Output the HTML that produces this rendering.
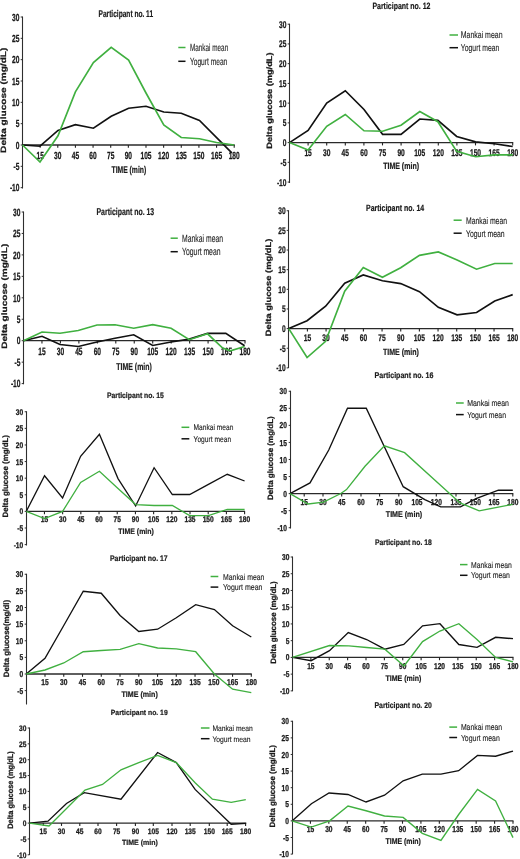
<!DOCTYPE html>
<html><head><meta charset="utf-8"><style>
html,body{margin:0;padding:0;background:#fff;}
body{width:520px;height:859px;overflow:hidden;}
svg{display:block;filter:blur(0.3px);}
text{font-family:"Liberation Sans",sans-serif;}
</style></head><body>
<svg width="520" height="859" viewBox="0 0 520 859" text-rendering="geometricPrecision" style="will-change:transform">
<rect width="520" height="859" fill="#fff"/>
<g font-weight="bold" fill="#1a1a1a">
<line x1="22.5" y1="16.5" x2="22.5" y2="188.5" stroke="#2e2e2e" stroke-width="1.1"/>
<line x1="20.7" y1="17" x2="22.5" y2="17" stroke="#2e2e2e" stroke-width="1"/>
<text x="19.5" y="20.66" font-size="10.3" text-anchor="end" textLength="7.4" lengthAdjust="spacingAndGlyphs" stroke="#1a1a1a" stroke-width="0.28">30</text>
<line x1="20.7" y1="38.33" x2="22.5" y2="38.33" stroke="#2e2e2e" stroke-width="1"/>
<text x="19.5" y="41.99" font-size="10.3" text-anchor="end" textLength="7.4" lengthAdjust="spacingAndGlyphs" stroke="#1a1a1a" stroke-width="0.28">25</text>
<line x1="20.7" y1="59.67" x2="22.5" y2="59.67" stroke="#2e2e2e" stroke-width="1"/>
<text x="19.5" y="63.32" font-size="10.3" text-anchor="end" textLength="7.4" lengthAdjust="spacingAndGlyphs" stroke="#1a1a1a" stroke-width="0.28">20</text>
<line x1="20.7" y1="81" x2="22.5" y2="81" stroke="#2e2e2e" stroke-width="1"/>
<text x="19.5" y="84.66" font-size="10.3" text-anchor="end" textLength="7.4" lengthAdjust="spacingAndGlyphs" stroke="#1a1a1a" stroke-width="0.28">15</text>
<line x1="20.7" y1="102.33" x2="22.5" y2="102.33" stroke="#2e2e2e" stroke-width="1"/>
<text x="19.5" y="105.99" font-size="10.3" text-anchor="end" textLength="7.4" lengthAdjust="spacingAndGlyphs" stroke="#1a1a1a" stroke-width="0.28">10</text>
<line x1="20.7" y1="123.67" x2="22.5" y2="123.67" stroke="#2e2e2e" stroke-width="1"/>
<text x="19.5" y="127.32" font-size="10.3" text-anchor="end" textLength="3.7" lengthAdjust="spacingAndGlyphs" stroke="#1a1a1a" stroke-width="0.28">5</text>
<line x1="20.7" y1="145" x2="22.5" y2="145" stroke="#2e2e2e" stroke-width="1"/>
<text x="19.5" y="148.66" font-size="10.3" text-anchor="end" textLength="3.7" lengthAdjust="spacingAndGlyphs" stroke="#1a1a1a" stroke-width="0.28">0</text>
<line x1="20.7" y1="166.33" x2="22.5" y2="166.33" stroke="#2e2e2e" stroke-width="1"/>
<text x="19.5" y="169.99" font-size="10.3" text-anchor="end" textLength="5.9" lengthAdjust="spacingAndGlyphs" stroke="#1a1a1a" stroke-width="0.28">-5</text>
<line x1="20.7" y1="187.67" x2="22.5" y2="187.67" stroke="#2e2e2e" stroke-width="1"/>
<text x="19.5" y="191.32" font-size="10.3" text-anchor="end" textLength="9.6" lengthAdjust="spacingAndGlyphs" stroke="#1a1a1a" stroke-width="0.28">-10</text>
<line x1="22.5" y1="145" x2="234.7" y2="145" stroke="#2a2a2a" stroke-width="1.3"/>
<line x1="40.14" y1="145" x2="40.14" y2="147.8" stroke="#222" stroke-width="1.1"/>
<text x="40.14" y="158.76" font-size="10.3" text-anchor="middle" textLength="7.4" lengthAdjust="spacingAndGlyphs" stroke="#1a1a1a" stroke-width="0.28">15</text>
<line x1="57.78" y1="145" x2="57.78" y2="147.8" stroke="#222" stroke-width="1.1"/>
<text x="57.78" y="158.76" font-size="10.3" text-anchor="middle" textLength="7.4" lengthAdjust="spacingAndGlyphs" stroke="#1a1a1a" stroke-width="0.28">30</text>
<line x1="75.42" y1="145" x2="75.42" y2="147.8" stroke="#222" stroke-width="1.1"/>
<text x="75.42" y="158.76" font-size="10.3" text-anchor="middle" textLength="7.4" lengthAdjust="spacingAndGlyphs" stroke="#1a1a1a" stroke-width="0.28">45</text>
<line x1="93.07" y1="145" x2="93.07" y2="147.8" stroke="#222" stroke-width="1.1"/>
<text x="93.07" y="158.76" font-size="10.3" text-anchor="middle" textLength="7.4" lengthAdjust="spacingAndGlyphs" stroke="#1a1a1a" stroke-width="0.28">60</text>
<line x1="110.71" y1="145" x2="110.71" y2="147.8" stroke="#222" stroke-width="1.1"/>
<text x="110.71" y="158.76" font-size="10.3" text-anchor="middle" textLength="7.4" lengthAdjust="spacingAndGlyphs" stroke="#1a1a1a" stroke-width="0.28">75</text>
<line x1="128.35" y1="145" x2="128.35" y2="147.8" stroke="#222" stroke-width="1.1"/>
<text x="128.35" y="158.76" font-size="10.3" text-anchor="middle" textLength="7.4" lengthAdjust="spacingAndGlyphs" stroke="#1a1a1a" stroke-width="0.28">90</text>
<line x1="145.99" y1="145" x2="145.99" y2="147.8" stroke="#222" stroke-width="1.1"/>
<text x="145.99" y="158.76" font-size="10.3" text-anchor="middle" textLength="11.1" lengthAdjust="spacingAndGlyphs" stroke="#1a1a1a" stroke-width="0.28">105</text>
<line x1="163.63" y1="145" x2="163.63" y2="147.8" stroke="#222" stroke-width="1.1"/>
<text x="163.63" y="158.76" font-size="10.3" text-anchor="middle" textLength="11.1" lengthAdjust="spacingAndGlyphs" stroke="#1a1a1a" stroke-width="0.28">120</text>
<line x1="181.27" y1="145" x2="181.27" y2="147.8" stroke="#222" stroke-width="1.1"/>
<text x="181.27" y="158.76" font-size="10.3" text-anchor="middle" textLength="11.1" lengthAdjust="spacingAndGlyphs" stroke="#1a1a1a" stroke-width="0.28">135</text>
<line x1="198.92" y1="145" x2="198.92" y2="147.8" stroke="#222" stroke-width="1.1"/>
<text x="198.92" y="158.76" font-size="10.3" text-anchor="middle" textLength="11.1" lengthAdjust="spacingAndGlyphs" stroke="#1a1a1a" stroke-width="0.28">150</text>
<line x1="216.56" y1="145" x2="216.56" y2="147.8" stroke="#222" stroke-width="1.1"/>
<text x="216.56" y="158.76" font-size="10.3" text-anchor="middle" textLength="11.1" lengthAdjust="spacingAndGlyphs" stroke="#1a1a1a" stroke-width="0.28">165</text>
<line x1="234.2" y1="145" x2="234.2" y2="147.8" stroke="#222" stroke-width="1.1"/>
<text x="234.2" y="158.76" font-size="10.3" text-anchor="middle" textLength="11.1" lengthAdjust="spacingAndGlyphs" stroke="#1a1a1a" stroke-width="0.28">180</text>
<text x="98.5" y="16.9" font-size="9.79" textLength="54.6" lengthAdjust="spacingAndGlyphs" stroke="#1a1a1a" stroke-width="0.2">Participant no. 11</text>
<text x="111.5" y="173.4" font-size="9.79" textLength="34.7" lengthAdjust="spacingAndGlyphs" stroke="#1a1a1a" stroke-width="0.2">TIME (min)</text>
<text transform="translate(5.5 100.3) rotate(-90)" font-size="7.8" text-anchor="middle" stroke="#1a1a1a" stroke-width="0.25" textLength="105.2" lengthAdjust="spacingAndGlyphs">Delta glucose (mg/dL)</text>
<line x1="178.3" y1="47.5" x2="185.5" y2="47.5" stroke="#40b040" stroke-width="1.5"/>
<line x1="178.3" y1="61.3" x2="185.5" y2="61.3" stroke="#111111" stroke-width="1.5"/>
<text x="189.9" y="51.21" font-size="10.3" font-weight="normal" fill="#222" textLength="38.3" lengthAdjust="spacingAndGlyphs" stroke="#222" stroke-width="0.12">Mankai mean</text>
<text x="189.9" y="65.01" font-size="10.3" font-weight="normal" fill="#222" textLength="37.4" lengthAdjust="spacingAndGlyphs" stroke="#222" stroke-width="0.12">Yogurt mean</text>
<polyline points="22.5,145 40,146.2 58,130.5 75.4,124.7 93.4,128.2 111.2,116.2 128.6,108.2 146,106.25 163.75,112 181.25,113.25 199.5,120.5 231.8,152.9" fill="none" stroke="#111111" stroke-width="1.65"/>
<polyline points="22.5,145 40,162 58,135.8 75.4,91.9 93.4,62.6 111.2,47.4 128.6,60.1 146,93 163.75,125 181.25,137.5 199.5,138.75 216.5,142.5 234.2,145" fill="none" stroke="#40b040" stroke-width="1.65"/>
</g>
<g font-weight="bold" fill="#1a1a1a">
<line x1="289.5" y1="23.7" x2="289.5" y2="183" stroke="#2e2e2e" stroke-width="1.1"/>
<line x1="287.7" y1="24.2" x2="289.5" y2="24.2" stroke="#2e2e2e" stroke-width="1"/>
<text x="286.5" y="27.64" font-size="9.7" text-anchor="end" textLength="7.4" lengthAdjust="spacingAndGlyphs" stroke="#1a1a1a" stroke-width="0.28">30</text>
<line x1="287.7" y1="43.93" x2="289.5" y2="43.93" stroke="#2e2e2e" stroke-width="1"/>
<text x="286.5" y="47.38" font-size="9.7" text-anchor="end" textLength="7.4" lengthAdjust="spacingAndGlyphs" stroke="#1a1a1a" stroke-width="0.28">25</text>
<line x1="287.7" y1="63.67" x2="289.5" y2="63.67" stroke="#2e2e2e" stroke-width="1"/>
<text x="286.5" y="67.11" font-size="9.7" text-anchor="end" textLength="7.4" lengthAdjust="spacingAndGlyphs" stroke="#1a1a1a" stroke-width="0.28">20</text>
<line x1="287.7" y1="83.4" x2="289.5" y2="83.4" stroke="#2e2e2e" stroke-width="1"/>
<text x="286.5" y="86.84" font-size="9.7" text-anchor="end" textLength="7.4" lengthAdjust="spacingAndGlyphs" stroke="#1a1a1a" stroke-width="0.28">15</text>
<line x1="287.7" y1="103.13" x2="289.5" y2="103.13" stroke="#2e2e2e" stroke-width="1"/>
<text x="286.5" y="106.58" font-size="9.7" text-anchor="end" textLength="7.4" lengthAdjust="spacingAndGlyphs" stroke="#1a1a1a" stroke-width="0.28">10</text>
<line x1="287.7" y1="122.87" x2="289.5" y2="122.87" stroke="#2e2e2e" stroke-width="1"/>
<text x="286.5" y="126.31" font-size="9.7" text-anchor="end" textLength="3.7" lengthAdjust="spacingAndGlyphs" stroke="#1a1a1a" stroke-width="0.28">5</text>
<line x1="287.7" y1="142.6" x2="289.5" y2="142.6" stroke="#2e2e2e" stroke-width="1"/>
<text x="286.5" y="146.04" font-size="9.7" text-anchor="end" textLength="3.7" lengthAdjust="spacingAndGlyphs" stroke="#1a1a1a" stroke-width="0.28">0</text>
<line x1="287.7" y1="162.33" x2="289.5" y2="162.33" stroke="#2e2e2e" stroke-width="1"/>
<text x="286.5" y="165.78" font-size="9.7" text-anchor="end" textLength="5.9" lengthAdjust="spacingAndGlyphs" stroke="#1a1a1a" stroke-width="0.28">-5</text>
<line x1="287.7" y1="182.07" x2="289.5" y2="182.07" stroke="#2e2e2e" stroke-width="1"/>
<text x="286.5" y="185.51" font-size="9.7" text-anchor="end" textLength="9.6" lengthAdjust="spacingAndGlyphs" stroke="#1a1a1a" stroke-width="0.28">-10</text>
<line x1="289.5" y1="142.6" x2="513.2" y2="142.6" stroke="#2a2a2a" stroke-width="1.3"/>
<line x1="308.1" y1="142.6" x2="308.1" y2="145.4" stroke="#222" stroke-width="1.1"/>
<text x="308.1" y="155.84" font-size="9.7" text-anchor="middle" textLength="7.4" lengthAdjust="spacingAndGlyphs" stroke="#1a1a1a" stroke-width="0.28">15</text>
<line x1="326.7" y1="142.6" x2="326.7" y2="145.4" stroke="#222" stroke-width="1.1"/>
<text x="326.7" y="155.84" font-size="9.7" text-anchor="middle" textLength="7.4" lengthAdjust="spacingAndGlyphs" stroke="#1a1a1a" stroke-width="0.28">30</text>
<line x1="345.3" y1="142.6" x2="345.3" y2="145.4" stroke="#222" stroke-width="1.1"/>
<text x="345.3" y="155.84" font-size="9.7" text-anchor="middle" textLength="7.4" lengthAdjust="spacingAndGlyphs" stroke="#1a1a1a" stroke-width="0.28">45</text>
<line x1="363.9" y1="142.6" x2="363.9" y2="145.4" stroke="#222" stroke-width="1.1"/>
<text x="363.9" y="155.84" font-size="9.7" text-anchor="middle" textLength="7.4" lengthAdjust="spacingAndGlyphs" stroke="#1a1a1a" stroke-width="0.28">60</text>
<line x1="382.5" y1="142.6" x2="382.5" y2="145.4" stroke="#222" stroke-width="1.1"/>
<text x="382.5" y="155.84" font-size="9.7" text-anchor="middle" textLength="7.4" lengthAdjust="spacingAndGlyphs" stroke="#1a1a1a" stroke-width="0.28">75</text>
<line x1="401.1" y1="142.6" x2="401.1" y2="145.4" stroke="#222" stroke-width="1.1"/>
<text x="401.1" y="155.84" font-size="9.7" text-anchor="middle" textLength="7.4" lengthAdjust="spacingAndGlyphs" stroke="#1a1a1a" stroke-width="0.28">90</text>
<line x1="419.7" y1="142.6" x2="419.7" y2="145.4" stroke="#222" stroke-width="1.1"/>
<text x="419.7" y="155.84" font-size="9.7" text-anchor="middle" textLength="11.1" lengthAdjust="spacingAndGlyphs" stroke="#1a1a1a" stroke-width="0.28">105</text>
<line x1="438.3" y1="142.6" x2="438.3" y2="145.4" stroke="#222" stroke-width="1.1"/>
<text x="438.3" y="155.84" font-size="9.7" text-anchor="middle" textLength="11.1" lengthAdjust="spacingAndGlyphs" stroke="#1a1a1a" stroke-width="0.28">120</text>
<line x1="456.9" y1="142.6" x2="456.9" y2="145.4" stroke="#222" stroke-width="1.1"/>
<text x="456.9" y="155.84" font-size="9.7" text-anchor="middle" textLength="11.1" lengthAdjust="spacingAndGlyphs" stroke="#1a1a1a" stroke-width="0.28">135</text>
<line x1="475.5" y1="142.6" x2="475.5" y2="145.4" stroke="#222" stroke-width="1.1"/>
<text x="475.5" y="155.84" font-size="9.7" text-anchor="middle" textLength="11.1" lengthAdjust="spacingAndGlyphs" stroke="#1a1a1a" stroke-width="0.28">150</text>
<line x1="494.1" y1="142.6" x2="494.1" y2="145.4" stroke="#222" stroke-width="1.1"/>
<text x="494.1" y="155.84" font-size="9.7" text-anchor="middle" textLength="11.1" lengthAdjust="spacingAndGlyphs" stroke="#1a1a1a" stroke-width="0.28">165</text>
<line x1="512.7" y1="142.6" x2="512.7" y2="145.4" stroke="#222" stroke-width="1.1"/>
<text x="512.7" y="155.84" font-size="9.7" text-anchor="middle" textLength="11.1" lengthAdjust="spacingAndGlyphs" stroke="#1a1a1a" stroke-width="0.28">180</text>
<text x="372.4" y="8.5" font-size="9.21" textLength="58" lengthAdjust="spacingAndGlyphs" stroke="#1a1a1a" stroke-width="0.2">Participant no. 12</text>
<text x="383.2" y="169.3" font-size="9.21" textLength="35.8" lengthAdjust="spacingAndGlyphs" stroke="#1a1a1a" stroke-width="0.2">TIME (min)</text>
<text transform="translate(272.15 100.62) rotate(-90)" font-size="7.8" text-anchor="middle" stroke="#1a1a1a" stroke-width="0.25" textLength="96.25" lengthAdjust="spacingAndGlyphs">Delta glucose (mg/dL)</text>
<line x1="449.5" y1="35" x2="458" y2="35" stroke="#40b040" stroke-width="1.5"/>
<line x1="449.5" y1="47.7" x2="458" y2="47.7" stroke="#111111" stroke-width="1.5"/>
<text x="460.8" y="38.49" font-size="9.7" font-weight="normal" fill="#222" textLength="41.7" lengthAdjust="spacingAndGlyphs" stroke="#222" stroke-width="0.12">Mankai mean</text>
<text x="460.8" y="51.19" font-size="9.7" font-weight="normal" fill="#222" textLength="38.5" lengthAdjust="spacingAndGlyphs" stroke="#222" stroke-width="0.12">Yogurt mean</text>
<polyline points="289.5,142.6 308.1,130.5 326.7,103 345.3,90.75 364,109.5 382.6,134.3 401,134.3 419.8,119 437.9,120.4 456.7,136.5 475.6,141.9 494.4,143.8 512.7,146.5" fill="none" stroke="#111111" stroke-width="1.65"/>
<polyline points="289.5,142.6 308.1,150 326.7,126.25 345.3,114.5 364,130.75 382.6,131.2 401,125.2 419.8,111.5 437.9,121.7 456.7,151.4 475.6,156.7 494.4,154.9 512.7,154.9" fill="none" stroke="#40b040" stroke-width="1.65"/>
</g>
<g font-weight="bold" fill="#1a1a1a">
<line x1="23.5" y1="211.5" x2="23.5" y2="384.25" stroke="#2e2e2e" stroke-width="1.1"/>
<line x1="21.7" y1="212" x2="23.5" y2="212" stroke="#2e2e2e" stroke-width="1"/>
<text x="20.5" y="215.73" font-size="10.5" text-anchor="end" textLength="7.4" lengthAdjust="spacingAndGlyphs" stroke="#1a1a1a" stroke-width="0.28">30</text>
<line x1="21.7" y1="233.45" x2="23.5" y2="233.45" stroke="#2e2e2e" stroke-width="1"/>
<text x="20.5" y="237.18" font-size="10.5" text-anchor="end" textLength="7.4" lengthAdjust="spacingAndGlyphs" stroke="#1a1a1a" stroke-width="0.28">25</text>
<line x1="21.7" y1="254.9" x2="23.5" y2="254.9" stroke="#2e2e2e" stroke-width="1"/>
<text x="20.5" y="258.63" font-size="10.5" text-anchor="end" textLength="7.4" lengthAdjust="spacingAndGlyphs" stroke="#1a1a1a" stroke-width="0.28">20</text>
<line x1="21.7" y1="276.35" x2="23.5" y2="276.35" stroke="#2e2e2e" stroke-width="1"/>
<text x="20.5" y="280.08" font-size="10.5" text-anchor="end" textLength="7.4" lengthAdjust="spacingAndGlyphs" stroke="#1a1a1a" stroke-width="0.28">15</text>
<line x1="21.7" y1="297.8" x2="23.5" y2="297.8" stroke="#2e2e2e" stroke-width="1"/>
<text x="20.5" y="301.53" font-size="10.5" text-anchor="end" textLength="7.4" lengthAdjust="spacingAndGlyphs" stroke="#1a1a1a" stroke-width="0.28">10</text>
<line x1="21.7" y1="319.25" x2="23.5" y2="319.25" stroke="#2e2e2e" stroke-width="1"/>
<text x="20.5" y="322.98" font-size="10.5" text-anchor="end" textLength="3.7" lengthAdjust="spacingAndGlyphs" stroke="#1a1a1a" stroke-width="0.28">5</text>
<line x1="21.7" y1="340.7" x2="23.5" y2="340.7" stroke="#2e2e2e" stroke-width="1"/>
<text x="20.5" y="344.43" font-size="10.5" text-anchor="end" textLength="3.7" lengthAdjust="spacingAndGlyphs" stroke="#1a1a1a" stroke-width="0.28">0</text>
<line x1="21.7" y1="362.15" x2="23.5" y2="362.15" stroke="#2e2e2e" stroke-width="1"/>
<text x="20.5" y="365.88" font-size="10.5" text-anchor="end" textLength="5.9" lengthAdjust="spacingAndGlyphs" stroke="#1a1a1a" stroke-width="0.28">-5</text>
<line x1="21.7" y1="383.6" x2="23.5" y2="383.6" stroke="#2e2e2e" stroke-width="1"/>
<text x="20.5" y="387.33" font-size="10.5" text-anchor="end" textLength="9.6" lengthAdjust="spacingAndGlyphs" stroke="#1a1a1a" stroke-width="0.28">-10</text>
<line x1="23.5" y1="340.7" x2="245.5" y2="340.7" stroke="#2a2a2a" stroke-width="1.3"/>
<line x1="41.96" y1="340.7" x2="41.96" y2="343.5" stroke="#222" stroke-width="1.1"/>
<text x="41.96" y="354.73" font-size="10.5" text-anchor="middle" textLength="7.4" lengthAdjust="spacingAndGlyphs" stroke="#1a1a1a" stroke-width="0.28">15</text>
<line x1="60.42" y1="340.7" x2="60.42" y2="343.5" stroke="#222" stroke-width="1.1"/>
<text x="60.42" y="354.73" font-size="10.5" text-anchor="middle" textLength="7.4" lengthAdjust="spacingAndGlyphs" stroke="#1a1a1a" stroke-width="0.28">30</text>
<line x1="78.88" y1="340.7" x2="78.88" y2="343.5" stroke="#222" stroke-width="1.1"/>
<text x="78.88" y="354.73" font-size="10.5" text-anchor="middle" textLength="7.4" lengthAdjust="spacingAndGlyphs" stroke="#1a1a1a" stroke-width="0.28">45</text>
<line x1="97.33" y1="340.7" x2="97.33" y2="343.5" stroke="#222" stroke-width="1.1"/>
<text x="97.33" y="354.73" font-size="10.5" text-anchor="middle" textLength="7.4" lengthAdjust="spacingAndGlyphs" stroke="#1a1a1a" stroke-width="0.28">60</text>
<line x1="115.79" y1="340.7" x2="115.79" y2="343.5" stroke="#222" stroke-width="1.1"/>
<text x="115.79" y="354.73" font-size="10.5" text-anchor="middle" textLength="7.4" lengthAdjust="spacingAndGlyphs" stroke="#1a1a1a" stroke-width="0.28">75</text>
<line x1="134.25" y1="340.7" x2="134.25" y2="343.5" stroke="#222" stroke-width="1.1"/>
<text x="134.25" y="354.73" font-size="10.5" text-anchor="middle" textLength="7.4" lengthAdjust="spacingAndGlyphs" stroke="#1a1a1a" stroke-width="0.28">90</text>
<line x1="152.71" y1="340.7" x2="152.71" y2="343.5" stroke="#222" stroke-width="1.1"/>
<text x="152.71" y="354.73" font-size="10.5" text-anchor="middle" textLength="11.1" lengthAdjust="spacingAndGlyphs" stroke="#1a1a1a" stroke-width="0.28">105</text>
<line x1="171.17" y1="340.7" x2="171.17" y2="343.5" stroke="#222" stroke-width="1.1"/>
<text x="171.17" y="354.73" font-size="10.5" text-anchor="middle" textLength="11.1" lengthAdjust="spacingAndGlyphs" stroke="#1a1a1a" stroke-width="0.28">120</text>
<line x1="189.62" y1="340.7" x2="189.62" y2="343.5" stroke="#222" stroke-width="1.1"/>
<text x="189.62" y="354.73" font-size="10.5" text-anchor="middle" textLength="11.1" lengthAdjust="spacingAndGlyphs" stroke="#1a1a1a" stroke-width="0.28">135</text>
<line x1="208.08" y1="340.7" x2="208.08" y2="343.5" stroke="#222" stroke-width="1.1"/>
<text x="208.08" y="354.73" font-size="10.5" text-anchor="middle" textLength="11.1" lengthAdjust="spacingAndGlyphs" stroke="#1a1a1a" stroke-width="0.28">150</text>
<line x1="226.54" y1="340.7" x2="226.54" y2="343.5" stroke="#222" stroke-width="1.1"/>
<text x="226.54" y="354.73" font-size="10.5" text-anchor="middle" textLength="11.1" lengthAdjust="spacingAndGlyphs" stroke="#1a1a1a" stroke-width="0.28">165</text>
<line x1="245" y1="340.7" x2="245" y2="343.5" stroke="#222" stroke-width="1.1"/>
<text x="245" y="354.73" font-size="10.5" text-anchor="middle" textLength="11.1" lengthAdjust="spacingAndGlyphs" stroke="#1a1a1a" stroke-width="0.28">180</text>
<text x="96.5" y="215" font-size="9.97" textLength="57.7" lengthAdjust="spacingAndGlyphs" stroke="#1a1a1a" stroke-width="0.2">Participant no. 13</text>
<text x="116.3" y="370" font-size="9.97" textLength="35.5" lengthAdjust="spacingAndGlyphs" stroke="#1a1a1a" stroke-width="0.2">TIME (min)</text>
<text transform="translate(7.15 296.25) rotate(-90)" font-size="7.8" text-anchor="middle" stroke="#1a1a1a" stroke-width="0.25" textLength="105" lengthAdjust="spacingAndGlyphs">Delta glucose (mg/dL)</text>
<line x1="170.6" y1="238.2" x2="177.8" y2="238.2" stroke="#40b040" stroke-width="1.5"/>
<line x1="170.6" y1="251.7" x2="177.8" y2="251.7" stroke="#111111" stroke-width="1.5"/>
<text x="182.1" y="241.98" font-size="10.5" font-weight="normal" fill="#222" textLength="40.9" lengthAdjust="spacingAndGlyphs" stroke="#222" stroke-width="0.12">Mankai mean</text>
<text x="182.1" y="255.48" font-size="10.5" font-weight="normal" fill="#222" textLength="38.4" lengthAdjust="spacingAndGlyphs" stroke="#222" stroke-width="0.12">Yogurt mean</text>
<polyline points="23.5,340.7 42,336.25 60,344.5 78.25,346.5 97,342 115,338.3 133.7,334.8 152.7,345.5 171.1,342 189.3,339.1 207.5,333.4 225.8,333.4 244.6,345.8" fill="none" stroke="#111111" stroke-width="1.65"/>
<polyline points="23.5,340.7 42,332 60,333.25 78.25,330.5 97,325 115,324.8 133.7,328.2 152.7,324.7 171.1,328.2 189.3,339.7 207.5,333.8 222.7,348 230.4,350.8 244.6,346.5" fill="none" stroke="#40b040" stroke-width="1.65"/>
</g>
<g font-weight="bold" fill="#1a1a1a">
<line x1="288.5" y1="210.25" x2="288.5" y2="368" stroke="#2e2e2e" stroke-width="1.1"/>
<line x1="286.7" y1="210.75" x2="288.5" y2="210.75" stroke="#2e2e2e" stroke-width="1"/>
<text x="285.75" y="214.16" font-size="9.6" text-anchor="end" textLength="7.4" lengthAdjust="spacingAndGlyphs" stroke="#1a1a1a" stroke-width="0.28">30</text>
<line x1="286.7" y1="230.39" x2="288.5" y2="230.39" stroke="#2e2e2e" stroke-width="1"/>
<text x="285.75" y="233.8" font-size="9.6" text-anchor="end" textLength="7.4" lengthAdjust="spacingAndGlyphs" stroke="#1a1a1a" stroke-width="0.28">25</text>
<line x1="286.7" y1="250.03" x2="288.5" y2="250.03" stroke="#2e2e2e" stroke-width="1"/>
<text x="285.75" y="253.44" font-size="9.6" text-anchor="end" textLength="7.4" lengthAdjust="spacingAndGlyphs" stroke="#1a1a1a" stroke-width="0.28">20</text>
<line x1="286.7" y1="269.68" x2="288.5" y2="269.68" stroke="#2e2e2e" stroke-width="1"/>
<text x="285.75" y="273.08" font-size="9.6" text-anchor="end" textLength="7.4" lengthAdjust="spacingAndGlyphs" stroke="#1a1a1a" stroke-width="0.28">15</text>
<line x1="286.7" y1="289.32" x2="288.5" y2="289.32" stroke="#2e2e2e" stroke-width="1"/>
<text x="285.75" y="292.72" font-size="9.6" text-anchor="end" textLength="7.4" lengthAdjust="spacingAndGlyphs" stroke="#1a1a1a" stroke-width="0.28">10</text>
<line x1="286.7" y1="308.96" x2="288.5" y2="308.96" stroke="#2e2e2e" stroke-width="1"/>
<text x="285.75" y="312.37" font-size="9.6" text-anchor="end" textLength="3.7" lengthAdjust="spacingAndGlyphs" stroke="#1a1a1a" stroke-width="0.28">5</text>
<line x1="286.7" y1="328.6" x2="288.5" y2="328.6" stroke="#2e2e2e" stroke-width="1"/>
<text x="285.75" y="332.01" font-size="9.6" text-anchor="end" textLength="3.7" lengthAdjust="spacingAndGlyphs" stroke="#1a1a1a" stroke-width="0.28">0</text>
<line x1="286.7" y1="348.24" x2="288.5" y2="348.24" stroke="#2e2e2e" stroke-width="1"/>
<text x="285.75" y="351.65" font-size="9.6" text-anchor="end" textLength="5.9" lengthAdjust="spacingAndGlyphs" stroke="#1a1a1a" stroke-width="0.28">-5</text>
<line x1="286.7" y1="367.88" x2="288.5" y2="367.88" stroke="#2e2e2e" stroke-width="1"/>
<text x="285.75" y="371.29" font-size="9.6" text-anchor="end" textLength="9.6" lengthAdjust="spacingAndGlyphs" stroke="#1a1a1a" stroke-width="0.28">-10</text>
<line x1="288.75" y1="328.6" x2="513.2" y2="328.6" stroke="#2a2a2a" stroke-width="1.3"/>
<line x1="307.41" y1="328.6" x2="307.41" y2="331.4" stroke="#222" stroke-width="1.1"/>
<text x="307.41" y="341.31" font-size="9.6" text-anchor="middle" textLength="7.4" lengthAdjust="spacingAndGlyphs" stroke="#1a1a1a" stroke-width="0.28">15</text>
<line x1="326.07" y1="328.6" x2="326.07" y2="331.4" stroke="#222" stroke-width="1.1"/>
<text x="326.07" y="341.31" font-size="9.6" text-anchor="middle" textLength="7.4" lengthAdjust="spacingAndGlyphs" stroke="#1a1a1a" stroke-width="0.28">30</text>
<line x1="344.74" y1="328.6" x2="344.74" y2="331.4" stroke="#222" stroke-width="1.1"/>
<text x="344.74" y="341.31" font-size="9.6" text-anchor="middle" textLength="7.4" lengthAdjust="spacingAndGlyphs" stroke="#1a1a1a" stroke-width="0.28">45</text>
<line x1="363.4" y1="328.6" x2="363.4" y2="331.4" stroke="#222" stroke-width="1.1"/>
<text x="363.4" y="341.31" font-size="9.6" text-anchor="middle" textLength="7.4" lengthAdjust="spacingAndGlyphs" stroke="#1a1a1a" stroke-width="0.28">60</text>
<line x1="382.06" y1="328.6" x2="382.06" y2="331.4" stroke="#222" stroke-width="1.1"/>
<text x="382.06" y="341.31" font-size="9.6" text-anchor="middle" textLength="7.4" lengthAdjust="spacingAndGlyphs" stroke="#1a1a1a" stroke-width="0.28">75</text>
<line x1="400.73" y1="328.6" x2="400.73" y2="331.4" stroke="#222" stroke-width="1.1"/>
<text x="400.73" y="341.31" font-size="9.6" text-anchor="middle" textLength="7.4" lengthAdjust="spacingAndGlyphs" stroke="#1a1a1a" stroke-width="0.28">90</text>
<line x1="419.39" y1="328.6" x2="419.39" y2="331.4" stroke="#222" stroke-width="1.1"/>
<text x="419.39" y="341.31" font-size="9.6" text-anchor="middle" textLength="11.1" lengthAdjust="spacingAndGlyphs" stroke="#1a1a1a" stroke-width="0.28">105</text>
<line x1="438.05" y1="328.6" x2="438.05" y2="331.4" stroke="#222" stroke-width="1.1"/>
<text x="438.05" y="341.31" font-size="9.6" text-anchor="middle" textLength="11.1" lengthAdjust="spacingAndGlyphs" stroke="#1a1a1a" stroke-width="0.28">120</text>
<line x1="456.71" y1="328.6" x2="456.71" y2="331.4" stroke="#222" stroke-width="1.1"/>
<text x="456.71" y="341.31" font-size="9.6" text-anchor="middle" textLength="11.1" lengthAdjust="spacingAndGlyphs" stroke="#1a1a1a" stroke-width="0.28">135</text>
<line x1="475.38" y1="328.6" x2="475.38" y2="331.4" stroke="#222" stroke-width="1.1"/>
<text x="475.38" y="341.31" font-size="9.6" text-anchor="middle" textLength="11.1" lengthAdjust="spacingAndGlyphs" stroke="#1a1a1a" stroke-width="0.28">150</text>
<line x1="494.04" y1="328.6" x2="494.04" y2="331.4" stroke="#222" stroke-width="1.1"/>
<text x="494.04" y="341.31" font-size="9.6" text-anchor="middle" textLength="11.1" lengthAdjust="spacingAndGlyphs" stroke="#1a1a1a" stroke-width="0.28">165</text>
<line x1="512.7" y1="328.6" x2="512.7" y2="331.4" stroke="#222" stroke-width="1.1"/>
<text x="512.7" y="341.31" font-size="9.6" text-anchor="middle" textLength="11.1" lengthAdjust="spacingAndGlyphs" stroke="#1a1a1a" stroke-width="0.28">180</text>
<text x="366" y="211" font-size="9.12" textLength="58.2" lengthAdjust="spacingAndGlyphs" stroke="#1a1a1a" stroke-width="0.2">Participant no. 14</text>
<text x="382.9" y="354.9" font-size="9.12" textLength="36" lengthAdjust="spacingAndGlyphs" stroke="#1a1a1a" stroke-width="0.2">TIME (min)</text>
<text transform="translate(270.9 287.5) rotate(-90)" font-size="7.8" text-anchor="middle" stroke="#1a1a1a" stroke-width="0.25" textLength="97.5" lengthAdjust="spacingAndGlyphs">Delta glucose (mg/dL)</text>
<line x1="453.6" y1="220.2" x2="461.7" y2="220.2" stroke="#40b040" stroke-width="1.5"/>
<line x1="453.6" y1="233.2" x2="461.7" y2="233.2" stroke="#111111" stroke-width="1.5"/>
<text x="466" y="223.66" font-size="9.6" font-weight="normal" fill="#222" textLength="41" lengthAdjust="spacingAndGlyphs" stroke="#222" stroke-width="0.12">Mankai mean</text>
<text x="466" y="236.66" font-size="9.6" font-weight="normal" fill="#222" textLength="38.7" lengthAdjust="spacingAndGlyphs" stroke="#222" stroke-width="0.12">Yogurt mean</text>
<polyline points="288.75,328.6 307.07,320.75 325.63,306.25 344.7,283.25 363.27,275 382.43,280.8 400.7,283.6 419.47,291.7 438.33,307.3 457.1,314.8 476.57,312.5 494.74,301 512.7,294.6" fill="none" stroke="#111111" stroke-width="1.65"/>
<polyline points="288.75,328.6 307.07,357.5 325.63,341.25 344.7,291.25 363.27,267.5 382.43,277.3 400.7,267.8 419.47,255.4 438.33,251.9 457.1,260 476.57,269.2 494.74,263.5 512.7,263.5" fill="none" stroke="#40b040" stroke-width="1.65"/>
</g>
<g font-weight="bold" fill="#1a1a1a">
<line x1="26.5" y1="411.25" x2="26.5" y2="545.5" stroke="#2e2e2e" stroke-width="1.1"/>
<line x1="24.7" y1="411.75" x2="26.5" y2="411.75" stroke="#2e2e2e" stroke-width="1"/>
<text x="23.25" y="414.68" font-size="8.25" text-anchor="end" textLength="7.4" lengthAdjust="spacingAndGlyphs" stroke="#1a1a1a" stroke-width="0.28">30</text>
<line x1="24.7" y1="428.36" x2="26.5" y2="428.36" stroke="#2e2e2e" stroke-width="1"/>
<text x="23.25" y="431.29" font-size="8.25" text-anchor="end" textLength="7.4" lengthAdjust="spacingAndGlyphs" stroke="#1a1a1a" stroke-width="0.28">25</text>
<line x1="24.7" y1="444.97" x2="26.5" y2="444.97" stroke="#2e2e2e" stroke-width="1"/>
<text x="23.25" y="447.9" font-size="8.25" text-anchor="end" textLength="7.4" lengthAdjust="spacingAndGlyphs" stroke="#1a1a1a" stroke-width="0.28">20</text>
<line x1="24.7" y1="461.57" x2="26.5" y2="461.57" stroke="#2e2e2e" stroke-width="1"/>
<text x="23.25" y="464.5" font-size="8.25" text-anchor="end" textLength="7.4" lengthAdjust="spacingAndGlyphs" stroke="#1a1a1a" stroke-width="0.28">15</text>
<line x1="24.7" y1="478.18" x2="26.5" y2="478.18" stroke="#2e2e2e" stroke-width="1"/>
<text x="23.25" y="481.11" font-size="8.25" text-anchor="end" textLength="7.4" lengthAdjust="spacingAndGlyphs" stroke="#1a1a1a" stroke-width="0.28">10</text>
<line x1="24.7" y1="494.79" x2="26.5" y2="494.79" stroke="#2e2e2e" stroke-width="1"/>
<text x="23.25" y="497.72" font-size="8.25" text-anchor="end" textLength="3.7" lengthAdjust="spacingAndGlyphs" stroke="#1a1a1a" stroke-width="0.28">5</text>
<line x1="24.7" y1="511.4" x2="26.5" y2="511.4" stroke="#2e2e2e" stroke-width="1"/>
<text x="23.25" y="514.33" font-size="8.25" text-anchor="end" textLength="3.7" lengthAdjust="spacingAndGlyphs" stroke="#1a1a1a" stroke-width="0.28">0</text>
<line x1="24.7" y1="528.01" x2="26.5" y2="528.01" stroke="#2e2e2e" stroke-width="1"/>
<text x="23.25" y="530.94" font-size="8.25" text-anchor="end" textLength="5.9" lengthAdjust="spacingAndGlyphs" stroke="#1a1a1a" stroke-width="0.28">-5</text>
<line x1="24.7" y1="544.62" x2="26.5" y2="544.62" stroke="#2e2e2e" stroke-width="1"/>
<text x="23.25" y="547.55" font-size="8.25" text-anchor="end" textLength="9.6" lengthAdjust="spacingAndGlyphs" stroke="#1a1a1a" stroke-width="0.28">-10</text>
<line x1="26.25" y1="511.4" x2="245.1" y2="511.4" stroke="#2a2a2a" stroke-width="1.3"/>
<line x1="44.45" y1="511.4" x2="44.45" y2="514.2" stroke="#222" stroke-width="1.1"/>
<text x="44.45" y="522.18" font-size="8.25" text-anchor="middle" textLength="7.4" lengthAdjust="spacingAndGlyphs" stroke="#1a1a1a" stroke-width="0.28">15</text>
<line x1="62.64" y1="511.4" x2="62.64" y2="514.2" stroke="#222" stroke-width="1.1"/>
<text x="62.64" y="522.18" font-size="8.25" text-anchor="middle" textLength="7.4" lengthAdjust="spacingAndGlyphs" stroke="#1a1a1a" stroke-width="0.28">30</text>
<line x1="80.84" y1="511.4" x2="80.84" y2="514.2" stroke="#222" stroke-width="1.1"/>
<text x="80.84" y="522.18" font-size="8.25" text-anchor="middle" textLength="7.4" lengthAdjust="spacingAndGlyphs" stroke="#1a1a1a" stroke-width="0.28">45</text>
<line x1="99.03" y1="511.4" x2="99.03" y2="514.2" stroke="#222" stroke-width="1.1"/>
<text x="99.03" y="522.18" font-size="8.25" text-anchor="middle" textLength="7.4" lengthAdjust="spacingAndGlyphs" stroke="#1a1a1a" stroke-width="0.28">60</text>
<line x1="117.23" y1="511.4" x2="117.23" y2="514.2" stroke="#222" stroke-width="1.1"/>
<text x="117.23" y="522.18" font-size="8.25" text-anchor="middle" textLength="7.4" lengthAdjust="spacingAndGlyphs" stroke="#1a1a1a" stroke-width="0.28">75</text>
<line x1="135.43" y1="511.4" x2="135.43" y2="514.2" stroke="#222" stroke-width="1.1"/>
<text x="135.43" y="522.18" font-size="8.25" text-anchor="middle" textLength="7.4" lengthAdjust="spacingAndGlyphs" stroke="#1a1a1a" stroke-width="0.28">90</text>
<line x1="153.62" y1="511.4" x2="153.62" y2="514.2" stroke="#222" stroke-width="1.1"/>
<text x="153.62" y="522.18" font-size="8.25" text-anchor="middle" textLength="11.1" lengthAdjust="spacingAndGlyphs" stroke="#1a1a1a" stroke-width="0.28">105</text>
<line x1="171.82" y1="511.4" x2="171.82" y2="514.2" stroke="#222" stroke-width="1.1"/>
<text x="171.82" y="522.18" font-size="8.25" text-anchor="middle" textLength="11.1" lengthAdjust="spacingAndGlyphs" stroke="#1a1a1a" stroke-width="0.28">120</text>
<line x1="190.01" y1="511.4" x2="190.01" y2="514.2" stroke="#222" stroke-width="1.1"/>
<text x="190.01" y="522.18" font-size="8.25" text-anchor="middle" textLength="11.1" lengthAdjust="spacingAndGlyphs" stroke="#1a1a1a" stroke-width="0.28">135</text>
<line x1="208.21" y1="511.4" x2="208.21" y2="514.2" stroke="#222" stroke-width="1.1"/>
<text x="208.21" y="522.18" font-size="8.25" text-anchor="middle" textLength="11.1" lengthAdjust="spacingAndGlyphs" stroke="#1a1a1a" stroke-width="0.28">150</text>
<line x1="226.4" y1="511.4" x2="226.4" y2="514.2" stroke="#222" stroke-width="1.1"/>
<text x="226.4" y="522.18" font-size="8.25" text-anchor="middle" textLength="11.1" lengthAdjust="spacingAndGlyphs" stroke="#1a1a1a" stroke-width="0.28">165</text>
<line x1="244.6" y1="511.4" x2="244.6" y2="514.2" stroke="#222" stroke-width="1.1"/>
<text x="244.6" y="522.18" font-size="8.25" text-anchor="middle" textLength="11.1" lengthAdjust="spacingAndGlyphs" stroke="#1a1a1a" stroke-width="0.28">180</text>
<text x="106.9" y="398" font-size="7.84" textLength="56.9" lengthAdjust="spacingAndGlyphs" stroke="#1a1a1a" stroke-width="0.2">Participant no. 15</text>
<text x="118.3" y="534.1" font-size="7.84" textLength="35.5" lengthAdjust="spacingAndGlyphs" stroke="#1a1a1a" stroke-width="0.2">TIME (min)</text>
<text transform="translate(8.4 476.25) rotate(-90)" font-size="7.8" text-anchor="middle" stroke="#1a1a1a" stroke-width="0.25" textLength="82.5" lengthAdjust="spacingAndGlyphs">Delta glucose (mg/dL)</text>
<line x1="181.5" y1="427.3" x2="189.3" y2="427.3" stroke="#40b040" stroke-width="1.5"/>
<line x1="181.5" y1="438.8" x2="189.3" y2="438.8" stroke="#111111" stroke-width="1.5"/>
<text x="193.6" y="430.27" font-size="8.25" font-weight="normal" fill="#222" textLength="39.8" lengthAdjust="spacingAndGlyphs" stroke="#222" stroke-width="0.12">Mankai mean</text>
<text x="193.6" y="441.77" font-size="8.25" font-weight="normal" fill="#222" textLength="37.5" lengthAdjust="spacingAndGlyphs" stroke="#222" stroke-width="0.12">Yogurt mean</text>
<polyline points="26.25,511.4 44.54,475.75 62.58,498 80.62,456.25 99.42,434.25 118.01,478.6 135.65,506 154.09,467.7 172.33,494.5 189.67,494.5 208.42,484.4 227.26,474.3 244.6,481" fill="none" stroke="#111111" stroke-width="1.3"/>
<polyline points="26.25,511.4 44.54,518.5 62.58,511.4 80.62,482.5 99.42,471.25 118.01,488.5 135.65,504.6 154.09,505.5 172.33,505.5 189.67,515.6 208.42,515.6 227.26,509.5 244.6,509.5" fill="none" stroke="#40b040" stroke-width="1.3"/>
</g>
<g font-weight="bold" fill="#1a1a1a">
<line x1="290.5" y1="390.75" x2="290.5" y2="528.5" stroke="#2e2e2e" stroke-width="1.1"/>
<line x1="288.7" y1="391.25" x2="290.5" y2="391.25" stroke="#2e2e2e" stroke-width="1"/>
<text x="287" y="394.32" font-size="8.65" text-anchor="end" textLength="7.4" lengthAdjust="spacingAndGlyphs" stroke="#1a1a1a" stroke-width="0.28">30</text>
<line x1="288.7" y1="408.31" x2="290.5" y2="408.31" stroke="#2e2e2e" stroke-width="1"/>
<text x="287" y="411.38" font-size="8.65" text-anchor="end" textLength="7.4" lengthAdjust="spacingAndGlyphs" stroke="#1a1a1a" stroke-width="0.28">25</text>
<line x1="288.7" y1="425.37" x2="290.5" y2="425.37" stroke="#2e2e2e" stroke-width="1"/>
<text x="287" y="428.44" font-size="8.65" text-anchor="end" textLength="7.4" lengthAdjust="spacingAndGlyphs" stroke="#1a1a1a" stroke-width="0.28">20</text>
<line x1="288.7" y1="442.43" x2="290.5" y2="442.43" stroke="#2e2e2e" stroke-width="1"/>
<text x="287" y="445.5" font-size="8.65" text-anchor="end" textLength="7.4" lengthAdjust="spacingAndGlyphs" stroke="#1a1a1a" stroke-width="0.28">15</text>
<line x1="288.7" y1="459.48" x2="290.5" y2="459.48" stroke="#2e2e2e" stroke-width="1"/>
<text x="287" y="462.55" font-size="8.65" text-anchor="end" textLength="7.4" lengthAdjust="spacingAndGlyphs" stroke="#1a1a1a" stroke-width="0.28">10</text>
<line x1="288.7" y1="476.54" x2="290.5" y2="476.54" stroke="#2e2e2e" stroke-width="1"/>
<text x="287" y="479.61" font-size="8.65" text-anchor="end" textLength="3.7" lengthAdjust="spacingAndGlyphs" stroke="#1a1a1a" stroke-width="0.28">5</text>
<line x1="288.7" y1="493.6" x2="290.5" y2="493.6" stroke="#2e2e2e" stroke-width="1"/>
<text x="287" y="496.67" font-size="8.65" text-anchor="end" textLength="3.7" lengthAdjust="spacingAndGlyphs" stroke="#1a1a1a" stroke-width="0.28">0</text>
<line x1="288.7" y1="510.66" x2="290.5" y2="510.66" stroke="#2e2e2e" stroke-width="1"/>
<text x="287" y="513.73" font-size="8.65" text-anchor="end" textLength="5.9" lengthAdjust="spacingAndGlyphs" stroke="#1a1a1a" stroke-width="0.28">-5</text>
<line x1="288.7" y1="527.72" x2="290.5" y2="527.72" stroke="#2e2e2e" stroke-width="1"/>
<text x="287" y="530.79" font-size="8.65" text-anchor="end" textLength="9.6" lengthAdjust="spacingAndGlyphs" stroke="#1a1a1a" stroke-width="0.28">-10</text>
<line x1="290" y1="493.6" x2="513.3" y2="493.6" stroke="#2a2a2a" stroke-width="1.3"/>
<line x1="304.2" y1="493.6" x2="304.2" y2="496.4" stroke="#222" stroke-width="1.1"/>
<text x="304.2" y="504.97" font-size="8.65" text-anchor="middle" textLength="7.4" lengthAdjust="spacingAndGlyphs" stroke="#1a1a1a" stroke-width="0.28">15</text>
<line x1="323" y1="493.6" x2="323" y2="496.4" stroke="#222" stroke-width="1.1"/>
<text x="323" y="504.97" font-size="8.65" text-anchor="middle" textLength="7.4" lengthAdjust="spacingAndGlyphs" stroke="#1a1a1a" stroke-width="0.28">30</text>
<line x1="341.7" y1="493.6" x2="341.7" y2="496.4" stroke="#222" stroke-width="1.1"/>
<text x="341.7" y="504.97" font-size="8.65" text-anchor="middle" textLength="7.4" lengthAdjust="spacingAndGlyphs" stroke="#1a1a1a" stroke-width="0.28">45</text>
<line x1="361" y1="493.6" x2="361" y2="496.4" stroke="#222" stroke-width="1.1"/>
<text x="361" y="504.97" font-size="8.65" text-anchor="middle" textLength="7.4" lengthAdjust="spacingAndGlyphs" stroke="#1a1a1a" stroke-width="0.28">60</text>
<line x1="379.6" y1="493.6" x2="379.6" y2="496.4" stroke="#222" stroke-width="1.1"/>
<text x="379.6" y="504.97" font-size="8.65" text-anchor="middle" textLength="7.4" lengthAdjust="spacingAndGlyphs" stroke="#1a1a1a" stroke-width="0.28">75</text>
<line x1="398.8" y1="493.6" x2="398.8" y2="496.4" stroke="#222" stroke-width="1.1"/>
<text x="398.8" y="504.97" font-size="8.65" text-anchor="middle" textLength="7.4" lengthAdjust="spacingAndGlyphs" stroke="#1a1a1a" stroke-width="0.28">90</text>
<line x1="417" y1="493.6" x2="417" y2="496.4" stroke="#222" stroke-width="1.1"/>
<text x="417" y="504.97" font-size="8.65" text-anchor="middle" textLength="11.1" lengthAdjust="spacingAndGlyphs" stroke="#1a1a1a" stroke-width="0.28">105</text>
<line x1="436.3" y1="493.6" x2="436.3" y2="496.4" stroke="#222" stroke-width="1.1"/>
<text x="436.3" y="504.97" font-size="8.65" text-anchor="middle" textLength="11.1" lengthAdjust="spacingAndGlyphs" stroke="#1a1a1a" stroke-width="0.28">120</text>
<line x1="456" y1="493.6" x2="456" y2="496.4" stroke="#222" stroke-width="1.1"/>
<text x="456" y="504.97" font-size="8.65" text-anchor="middle" textLength="11.1" lengthAdjust="spacingAndGlyphs" stroke="#1a1a1a" stroke-width="0.28">135</text>
<line x1="475.3" y1="493.6" x2="475.3" y2="496.4" stroke="#222" stroke-width="1.1"/>
<text x="475.3" y="504.97" font-size="8.65" text-anchor="middle" textLength="11.1" lengthAdjust="spacingAndGlyphs" stroke="#1a1a1a" stroke-width="0.28">150</text>
<line x1="494" y1="493.6" x2="494" y2="496.4" stroke="#222" stroke-width="1.1"/>
<text x="494" y="504.97" font-size="8.65" text-anchor="middle" textLength="11.1" lengthAdjust="spacingAndGlyphs" stroke="#1a1a1a" stroke-width="0.28">165</text>
<line x1="512.8" y1="493.6" x2="512.8" y2="496.4" stroke="#222" stroke-width="1.1"/>
<text x="512.8" y="504.97" font-size="8.65" text-anchor="middle" textLength="11.1" lengthAdjust="spacingAndGlyphs" stroke="#1a1a1a" stroke-width="0.28">180</text>
<text x="374.5" y="378.2" font-size="8.22" textLength="58.9" lengthAdjust="spacingAndGlyphs" stroke="#1a1a1a" stroke-width="0.2">Participant no. 16</text>
<text x="385.8" y="516.7" font-size="8.22" textLength="36.3" lengthAdjust="spacingAndGlyphs" stroke="#1a1a1a" stroke-width="0.2">TIME (min)</text>
<text transform="translate(273.4 458.12) rotate(-90)" font-size="7.8" text-anchor="middle" stroke="#1a1a1a" stroke-width="0.25" textLength="83.75" lengthAdjust="spacingAndGlyphs">Delta glucose (mg/dL)</text>
<line x1="456" y1="403" x2="463.7" y2="403" stroke="#40b040" stroke-width="1.5"/>
<line x1="456" y1="414.6" x2="463.7" y2="414.6" stroke="#111111" stroke-width="1.5"/>
<text x="467.2" y="406.11" font-size="8.65" font-weight="normal" fill="#222" textLength="41.8" lengthAdjust="spacingAndGlyphs" stroke="#222" stroke-width="0.12">Mankai mean</text>
<text x="467.2" y="417.71" font-size="8.65" font-weight="normal" fill="#222" textLength="38.8" lengthAdjust="spacingAndGlyphs" stroke="#222" stroke-width="0.12">Yogurt mean</text>
<polyline points="290,493.6 310,482.9 328.75,450 347.5,408.25 366.25,408.25 403.2,486.7 424.8,499.7 440.7,506.9 460.5,506.9 476,498.6 498.4,490.2 512.8,490.2" fill="none" stroke="#111111" stroke-width="1.35"/>
<polyline points="290,493.6 308.1,504 323.5,502.1 340.8,493.5 346.5,489.6 365,466.25 384.4,445.8 404.6,452.7 460,503 479.2,510.8 512.6,504.4" fill="none" stroke="#40b040" stroke-width="1.35"/>
</g>
<g font-weight="bold" fill="#1a1a1a">
<line x1="26.5" y1="573.75" x2="26.5" y2="704.5" stroke="#2e2e2e" stroke-width="1.1"/>
<line x1="24.7" y1="574.25" x2="26.5" y2="574.25" stroke="#2e2e2e" stroke-width="1"/>
<text x="23.25" y="577.29" font-size="8.55" text-anchor="end" textLength="7.4" lengthAdjust="spacingAndGlyphs" stroke="#1a1a1a" stroke-width="0.28">30</text>
<line x1="24.7" y1="590.88" x2="26.5" y2="590.88" stroke="#2e2e2e" stroke-width="1"/>
<text x="23.25" y="593.91" font-size="8.55" text-anchor="end" textLength="7.4" lengthAdjust="spacingAndGlyphs" stroke="#1a1a1a" stroke-width="0.28">25</text>
<line x1="24.7" y1="607.5" x2="26.5" y2="607.5" stroke="#2e2e2e" stroke-width="1"/>
<text x="23.25" y="610.54" font-size="8.55" text-anchor="end" textLength="7.4" lengthAdjust="spacingAndGlyphs" stroke="#1a1a1a" stroke-width="0.28">20</text>
<line x1="24.7" y1="624.12" x2="26.5" y2="624.12" stroke="#2e2e2e" stroke-width="1"/>
<text x="23.25" y="627.16" font-size="8.55" text-anchor="end" textLength="7.4" lengthAdjust="spacingAndGlyphs" stroke="#1a1a1a" stroke-width="0.28">15</text>
<line x1="24.7" y1="640.75" x2="26.5" y2="640.75" stroke="#2e2e2e" stroke-width="1"/>
<text x="23.25" y="643.79" font-size="8.55" text-anchor="end" textLength="7.4" lengthAdjust="spacingAndGlyphs" stroke="#1a1a1a" stroke-width="0.28">10</text>
<line x1="24.7" y1="657.38" x2="26.5" y2="657.38" stroke="#2e2e2e" stroke-width="1"/>
<text x="23.25" y="660.41" font-size="8.55" text-anchor="end" textLength="3.7" lengthAdjust="spacingAndGlyphs" stroke="#1a1a1a" stroke-width="0.28">5</text>
<line x1="24.7" y1="674" x2="26.5" y2="674" stroke="#2e2e2e" stroke-width="1"/>
<text x="23.25" y="677.04" font-size="8.55" text-anchor="end" textLength="3.7" lengthAdjust="spacingAndGlyphs" stroke="#1a1a1a" stroke-width="0.28">0</text>
<line x1="24.7" y1="690.62" x2="26.5" y2="690.62" stroke="#2e2e2e" stroke-width="1"/>
<text x="23.25" y="693.66" font-size="8.55" text-anchor="end" textLength="5.9" lengthAdjust="spacingAndGlyphs" stroke="#1a1a1a" stroke-width="0.28">-5</text>
<line x1="26.25" y1="674" x2="251.8" y2="674" stroke="#2a2a2a" stroke-width="1.3"/>
<line x1="45" y1="674" x2="45" y2="676.8" stroke="#222" stroke-width="1.1"/>
<text x="45" y="685.14" font-size="8.55" text-anchor="middle" textLength="7.4" lengthAdjust="spacingAndGlyphs" stroke="#1a1a1a" stroke-width="0.28">15</text>
<line x1="63.76" y1="674" x2="63.76" y2="676.8" stroke="#222" stroke-width="1.1"/>
<text x="63.76" y="685.14" font-size="8.55" text-anchor="middle" textLength="7.4" lengthAdjust="spacingAndGlyphs" stroke="#1a1a1a" stroke-width="0.28">30</text>
<line x1="82.51" y1="674" x2="82.51" y2="676.8" stroke="#222" stroke-width="1.1"/>
<text x="82.51" y="685.14" font-size="8.55" text-anchor="middle" textLength="7.4" lengthAdjust="spacingAndGlyphs" stroke="#1a1a1a" stroke-width="0.28">45</text>
<line x1="101.27" y1="674" x2="101.27" y2="676.8" stroke="#222" stroke-width="1.1"/>
<text x="101.27" y="685.14" font-size="8.55" text-anchor="middle" textLength="7.4" lengthAdjust="spacingAndGlyphs" stroke="#1a1a1a" stroke-width="0.28">60</text>
<line x1="120.02" y1="674" x2="120.02" y2="676.8" stroke="#222" stroke-width="1.1"/>
<text x="120.02" y="685.14" font-size="8.55" text-anchor="middle" textLength="7.4" lengthAdjust="spacingAndGlyphs" stroke="#1a1a1a" stroke-width="0.28">75</text>
<line x1="138.78" y1="674" x2="138.78" y2="676.8" stroke="#222" stroke-width="1.1"/>
<text x="138.78" y="685.14" font-size="8.55" text-anchor="middle" textLength="7.4" lengthAdjust="spacingAndGlyphs" stroke="#1a1a1a" stroke-width="0.28">90</text>
<line x1="157.53" y1="674" x2="157.53" y2="676.8" stroke="#222" stroke-width="1.1"/>
<text x="157.53" y="685.14" font-size="8.55" text-anchor="middle" textLength="11.1" lengthAdjust="spacingAndGlyphs" stroke="#1a1a1a" stroke-width="0.28">105</text>
<line x1="176.28" y1="674" x2="176.28" y2="676.8" stroke="#222" stroke-width="1.1"/>
<text x="176.28" y="685.14" font-size="8.55" text-anchor="middle" textLength="11.1" lengthAdjust="spacingAndGlyphs" stroke="#1a1a1a" stroke-width="0.28">120</text>
<line x1="195.04" y1="674" x2="195.04" y2="676.8" stroke="#222" stroke-width="1.1"/>
<text x="195.04" y="685.14" font-size="8.55" text-anchor="middle" textLength="11.1" lengthAdjust="spacingAndGlyphs" stroke="#1a1a1a" stroke-width="0.28">135</text>
<line x1="213.79" y1="674" x2="213.79" y2="676.8" stroke="#222" stroke-width="1.1"/>
<text x="213.79" y="685.14" font-size="8.55" text-anchor="middle" textLength="11.1" lengthAdjust="spacingAndGlyphs" stroke="#1a1a1a" stroke-width="0.28">150</text>
<line x1="232.55" y1="674" x2="232.55" y2="676.8" stroke="#222" stroke-width="1.1"/>
<text x="232.55" y="685.14" font-size="8.55" text-anchor="middle" textLength="11.1" lengthAdjust="spacingAndGlyphs" stroke="#1a1a1a" stroke-width="0.28">165</text>
<line x1="251.3" y1="674" x2="251.3" y2="676.8" stroke="#222" stroke-width="1.1"/>
<text x="251.3" y="685.14" font-size="8.55" text-anchor="middle" textLength="11.1" lengthAdjust="spacingAndGlyphs" stroke="#1a1a1a" stroke-width="0.28">180</text>
<text x="110" y="560.6" font-size="8.12" textLength="57.7" lengthAdjust="spacingAndGlyphs" stroke="#1a1a1a" stroke-width="0.2">Participant no. 17</text>
<text x="121.5" y="696.7" font-size="8.12" textLength="36.3" lengthAdjust="spacingAndGlyphs" stroke="#1a1a1a" stroke-width="0.2">TIME (min)</text>
<text transform="translate(9.4 638.55) rotate(-90)" font-size="7.8" text-anchor="middle" stroke="#1a1a1a" stroke-width="0.25" textLength="77.3" lengthAdjust="spacingAndGlyphs">Delta glucose(mg/dl)</text>
<line x1="210.6" y1="576.5" x2="218.3" y2="576.5" stroke="#40b040" stroke-width="1.5"/>
<line x1="210.6" y1="587.1" x2="218.3" y2="587.1" stroke="#111111" stroke-width="1.5"/>
<text x="223" y="579.58" font-size="8.55" font-weight="normal" fill="#222" textLength="41.4" lengthAdjust="spacingAndGlyphs" stroke="#222" stroke-width="0.12">Mankai mean</text>
<text x="223" y="590.18" font-size="8.55" font-weight="normal" fill="#222" textLength="39.5" lengthAdjust="spacingAndGlyphs" stroke="#222" stroke-width="0.12">Yogurt mean</text>
<polyline points="26.25,674 45,658.25 63.75,625.5 83.25,591.25 101.25,593.25 120.1,615.4 138.8,631.5 157.6,629.2 176.3,617.7 195.7,604.7 214.4,609.6 232.6,625.8 251.3,637" fill="none" stroke="#111111" stroke-width="1.35"/>
<polyline points="26.25,674 45,670 63.75,663 83.25,651.75 101.25,650.5 120.1,649.4 138.8,643.6 157.6,648 176.3,648.8 195.7,651.7 214.4,673.9 232.6,689.2 251.3,692.7" fill="none" stroke="#40b040" stroke-width="1.35"/>
</g>
<g font-weight="bold" fill="#1a1a1a">
<line x1="292.5" y1="556.5" x2="292.5" y2="691.25" stroke="#2e2e2e" stroke-width="1.1"/>
<line x1="290.7" y1="557" x2="292.5" y2="557" stroke="#2e2e2e" stroke-width="1"/>
<text x="289.5" y="560.04" font-size="8.55" text-anchor="end" textLength="7.4" lengthAdjust="spacingAndGlyphs" stroke="#1a1a1a" stroke-width="0.28">30</text>
<line x1="290.7" y1="573.73" x2="292.5" y2="573.73" stroke="#2e2e2e" stroke-width="1"/>
<text x="289.5" y="576.77" font-size="8.55" text-anchor="end" textLength="7.4" lengthAdjust="spacingAndGlyphs" stroke="#1a1a1a" stroke-width="0.28">25</text>
<line x1="290.7" y1="590.47" x2="292.5" y2="590.47" stroke="#2e2e2e" stroke-width="1"/>
<text x="289.5" y="593.5" font-size="8.55" text-anchor="end" textLength="7.4" lengthAdjust="spacingAndGlyphs" stroke="#1a1a1a" stroke-width="0.28">20</text>
<line x1="290.7" y1="607.2" x2="292.5" y2="607.2" stroke="#2e2e2e" stroke-width="1"/>
<text x="289.5" y="610.24" font-size="8.55" text-anchor="end" textLength="7.4" lengthAdjust="spacingAndGlyphs" stroke="#1a1a1a" stroke-width="0.28">15</text>
<line x1="290.7" y1="623.93" x2="292.5" y2="623.93" stroke="#2e2e2e" stroke-width="1"/>
<text x="289.5" y="626.97" font-size="8.55" text-anchor="end" textLength="7.4" lengthAdjust="spacingAndGlyphs" stroke="#1a1a1a" stroke-width="0.28">10</text>
<line x1="290.7" y1="640.67" x2="292.5" y2="640.67" stroke="#2e2e2e" stroke-width="1"/>
<text x="289.5" y="643.7" font-size="8.55" text-anchor="end" textLength="3.7" lengthAdjust="spacingAndGlyphs" stroke="#1a1a1a" stroke-width="0.28">5</text>
<line x1="290.7" y1="657.4" x2="292.5" y2="657.4" stroke="#2e2e2e" stroke-width="1"/>
<text x="289.5" y="660.44" font-size="8.55" text-anchor="end" textLength="3.7" lengthAdjust="spacingAndGlyphs" stroke="#1a1a1a" stroke-width="0.28">0</text>
<line x1="290.7" y1="674.13" x2="292.5" y2="674.13" stroke="#2e2e2e" stroke-width="1"/>
<text x="289.5" y="677.17" font-size="8.55" text-anchor="end" textLength="5.9" lengthAdjust="spacingAndGlyphs" stroke="#1a1a1a" stroke-width="0.28">-5</text>
<line x1="290.7" y1="690.87" x2="292.5" y2="690.87" stroke="#2e2e2e" stroke-width="1"/>
<text x="289.5" y="693.9" font-size="8.55" text-anchor="end" textLength="9.6" lengthAdjust="spacingAndGlyphs" stroke="#1a1a1a" stroke-width="0.28">-10</text>
<line x1="292.5" y1="657.4" x2="513.5" y2="657.4" stroke="#2a2a2a" stroke-width="1.3"/>
<line x1="310.88" y1="657.4" x2="310.88" y2="660.2" stroke="#222" stroke-width="1.1"/>
<text x="310.88" y="668.94" font-size="8.55" text-anchor="middle" textLength="7.4" lengthAdjust="spacingAndGlyphs" stroke="#1a1a1a" stroke-width="0.28">15</text>
<line x1="329.25" y1="657.4" x2="329.25" y2="660.2" stroke="#222" stroke-width="1.1"/>
<text x="329.25" y="668.94" font-size="8.55" text-anchor="middle" textLength="7.4" lengthAdjust="spacingAndGlyphs" stroke="#1a1a1a" stroke-width="0.28">30</text>
<line x1="347.62" y1="657.4" x2="347.62" y2="660.2" stroke="#222" stroke-width="1.1"/>
<text x="347.62" y="668.94" font-size="8.55" text-anchor="middle" textLength="7.4" lengthAdjust="spacingAndGlyphs" stroke="#1a1a1a" stroke-width="0.28">45</text>
<line x1="366" y1="657.4" x2="366" y2="660.2" stroke="#222" stroke-width="1.1"/>
<text x="366" y="668.94" font-size="8.55" text-anchor="middle" textLength="7.4" lengthAdjust="spacingAndGlyphs" stroke="#1a1a1a" stroke-width="0.28">60</text>
<line x1="384.38" y1="657.4" x2="384.38" y2="660.2" stroke="#222" stroke-width="1.1"/>
<text x="384.38" y="668.94" font-size="8.55" text-anchor="middle" textLength="7.4" lengthAdjust="spacingAndGlyphs" stroke="#1a1a1a" stroke-width="0.28">75</text>
<line x1="402.75" y1="657.4" x2="402.75" y2="660.2" stroke="#222" stroke-width="1.1"/>
<text x="402.75" y="668.94" font-size="8.55" text-anchor="middle" textLength="7.4" lengthAdjust="spacingAndGlyphs" stroke="#1a1a1a" stroke-width="0.28">90</text>
<line x1="421.12" y1="657.4" x2="421.12" y2="660.2" stroke="#222" stroke-width="1.1"/>
<text x="421.12" y="668.94" font-size="8.55" text-anchor="middle" textLength="11.1" lengthAdjust="spacingAndGlyphs" stroke="#1a1a1a" stroke-width="0.28">105</text>
<line x1="439.5" y1="657.4" x2="439.5" y2="660.2" stroke="#222" stroke-width="1.1"/>
<text x="439.5" y="668.94" font-size="8.55" text-anchor="middle" textLength="11.1" lengthAdjust="spacingAndGlyphs" stroke="#1a1a1a" stroke-width="0.28">120</text>
<line x1="457.88" y1="657.4" x2="457.88" y2="660.2" stroke="#222" stroke-width="1.1"/>
<text x="457.88" y="668.94" font-size="8.55" text-anchor="middle" textLength="11.1" lengthAdjust="spacingAndGlyphs" stroke="#1a1a1a" stroke-width="0.28">135</text>
<line x1="476.25" y1="657.4" x2="476.25" y2="660.2" stroke="#222" stroke-width="1.1"/>
<text x="476.25" y="668.94" font-size="8.55" text-anchor="middle" textLength="11.1" lengthAdjust="spacingAndGlyphs" stroke="#1a1a1a" stroke-width="0.28">150</text>
<line x1="494.62" y1="657.4" x2="494.62" y2="660.2" stroke="#222" stroke-width="1.1"/>
<text x="494.62" y="668.94" font-size="8.55" text-anchor="middle" textLength="11.1" lengthAdjust="spacingAndGlyphs" stroke="#1a1a1a" stroke-width="0.28">165</text>
<line x1="513" y1="657.4" x2="513" y2="660.2" stroke="#222" stroke-width="1.1"/>
<text x="513" y="668.94" font-size="8.55" text-anchor="middle" textLength="11.1" lengthAdjust="spacingAndGlyphs" stroke="#1a1a1a" stroke-width="0.28">180</text>
<text x="374.9" y="544.6" font-size="8.12" textLength="56.9" lengthAdjust="spacingAndGlyphs" stroke="#1a1a1a" stroke-width="0.2">Participant no. 18</text>
<text x="385.5" y="680.5" font-size="8.12" textLength="35.8" lengthAdjust="spacingAndGlyphs" stroke="#1a1a1a" stroke-width="0.2">TIME (min)</text>
<text transform="translate(276.4 622.5) rotate(-90)" font-size="7.8" text-anchor="middle" stroke="#1a1a1a" stroke-width="0.25" textLength="82.5" lengthAdjust="spacingAndGlyphs">Delta glucose (mg/dL)</text>
<line x1="460" y1="564.6" x2="467.5" y2="564.6" stroke="#40b040" stroke-width="1.5"/>
<line x1="460" y1="575.3" x2="467.5" y2="575.3" stroke="#111111" stroke-width="1.5"/>
<text x="471" y="567.68" font-size="8.55" font-weight="normal" fill="#222" textLength="40.9" lengthAdjust="spacingAndGlyphs" stroke="#222" stroke-width="0.12">Mankai mean</text>
<text x="471" y="578.38" font-size="8.55" font-weight="normal" fill="#222" textLength="38.9" lengthAdjust="spacingAndGlyphs" stroke="#222" stroke-width="0.12">Yogurt mean</text>
<polyline points="292.5,657.4 311.09,660.7 329.48,650.7 348.28,632.5 366.62,639.5 384.86,649.2 403.76,644.5 422.55,625.8 439.94,623.7 458.83,644.5 477.02,647.4 495.61,637.3 513,638.7" fill="none" stroke="#111111" stroke-width="1.35"/>
<polyline points="292.5,657.4 329.48,645.5 348.88,645.8 366.62,647.5 384.86,649.2 404.06,666 422.55,641.6 439.94,631 458.83,623.7 477.02,639.6 495.61,657.5 513,661.8" fill="none" stroke="#40b040" stroke-width="1.35"/>
</g>
<g font-weight="bold" fill="#1a1a1a">
<line x1="29.5" y1="727.5" x2="29.5" y2="855" stroke="#2e2e2e" stroke-width="1.1"/>
<line x1="27.7" y1="728" x2="29.5" y2="728" stroke="#2e2e2e" stroke-width="1"/>
<text x="26.5" y="730.8" font-size="7.9" text-anchor="end" textLength="7.4" lengthAdjust="spacingAndGlyphs" stroke="#1a1a1a" stroke-width="0.28">30</text>
<line x1="27.7" y1="743.85" x2="29.5" y2="743.85" stroke="#2e2e2e" stroke-width="1"/>
<text x="26.5" y="746.65" font-size="7.9" text-anchor="end" textLength="7.4" lengthAdjust="spacingAndGlyphs" stroke="#1a1a1a" stroke-width="0.28">25</text>
<line x1="27.7" y1="759.7" x2="29.5" y2="759.7" stroke="#2e2e2e" stroke-width="1"/>
<text x="26.5" y="762.5" font-size="7.9" text-anchor="end" textLength="7.4" lengthAdjust="spacingAndGlyphs" stroke="#1a1a1a" stroke-width="0.28">20</text>
<line x1="27.7" y1="775.55" x2="29.5" y2="775.55" stroke="#2e2e2e" stroke-width="1"/>
<text x="26.5" y="778.35" font-size="7.9" text-anchor="end" textLength="7.4" lengthAdjust="spacingAndGlyphs" stroke="#1a1a1a" stroke-width="0.28">15</text>
<line x1="27.7" y1="791.4" x2="29.5" y2="791.4" stroke="#2e2e2e" stroke-width="1"/>
<text x="26.5" y="794.2" font-size="7.9" text-anchor="end" textLength="7.4" lengthAdjust="spacingAndGlyphs" stroke="#1a1a1a" stroke-width="0.28">10</text>
<line x1="27.7" y1="807.25" x2="29.5" y2="807.25" stroke="#2e2e2e" stroke-width="1"/>
<text x="26.5" y="810.05" font-size="7.9" text-anchor="end" textLength="3.7" lengthAdjust="spacingAndGlyphs" stroke="#1a1a1a" stroke-width="0.28">5</text>
<line x1="27.7" y1="823.1" x2="29.5" y2="823.1" stroke="#2e2e2e" stroke-width="1"/>
<text x="26.5" y="825.9" font-size="7.9" text-anchor="end" textLength="3.7" lengthAdjust="spacingAndGlyphs" stroke="#1a1a1a" stroke-width="0.28">0</text>
<line x1="27.7" y1="838.95" x2="29.5" y2="838.95" stroke="#2e2e2e" stroke-width="1"/>
<text x="26.5" y="841.75" font-size="7.9" text-anchor="end" textLength="5.9" lengthAdjust="spacingAndGlyphs" stroke="#1a1a1a" stroke-width="0.28">-5</text>
<line x1="27.7" y1="854.8" x2="29.5" y2="854.8" stroke="#2e2e2e" stroke-width="1"/>
<text x="26.5" y="857.6" font-size="7.9" text-anchor="end" textLength="9.6" lengthAdjust="spacingAndGlyphs" stroke="#1a1a1a" stroke-width="0.28">-10</text>
<line x1="29.5" y1="823.1" x2="246.3" y2="823.1" stroke="#2a2a2a" stroke-width="1.3"/>
<line x1="43.3" y1="823.1" x2="43.3" y2="825.9" stroke="#222" stroke-width="1.1"/>
<text x="43.3" y="833.5" font-size="7.9" text-anchor="middle" textLength="7.4" lengthAdjust="spacingAndGlyphs" stroke="#1a1a1a" stroke-width="0.28">15</text>
<line x1="61.5" y1="823.1" x2="61.5" y2="825.9" stroke="#222" stroke-width="1.1"/>
<text x="61.5" y="833.5" font-size="7.9" text-anchor="middle" textLength="7.4" lengthAdjust="spacingAndGlyphs" stroke="#1a1a1a" stroke-width="0.28">30</text>
<line x1="79.8" y1="823.1" x2="79.8" y2="825.9" stroke="#222" stroke-width="1.1"/>
<text x="79.8" y="833.5" font-size="7.9" text-anchor="middle" textLength="7.4" lengthAdjust="spacingAndGlyphs" stroke="#1a1a1a" stroke-width="0.28">45</text>
<line x1="98" y1="823.1" x2="98" y2="825.9" stroke="#222" stroke-width="1.1"/>
<text x="98" y="833.5" font-size="7.9" text-anchor="middle" textLength="7.4" lengthAdjust="spacingAndGlyphs" stroke="#1a1a1a" stroke-width="0.28">60</text>
<line x1="116.6" y1="823.1" x2="116.6" y2="825.9" stroke="#222" stroke-width="1.1"/>
<text x="116.6" y="833.5" font-size="7.9" text-anchor="middle" textLength="7.4" lengthAdjust="spacingAndGlyphs" stroke="#1a1a1a" stroke-width="0.28">75</text>
<line x1="135.4" y1="823.1" x2="135.4" y2="825.9" stroke="#222" stroke-width="1.1"/>
<text x="135.4" y="833.5" font-size="7.9" text-anchor="middle" textLength="7.4" lengthAdjust="spacingAndGlyphs" stroke="#1a1a1a" stroke-width="0.28">90</text>
<line x1="153.3" y1="823.1" x2="153.3" y2="825.9" stroke="#222" stroke-width="1.1"/>
<text x="153.3" y="833.5" font-size="7.9" text-anchor="middle" textLength="11.1" lengthAdjust="spacingAndGlyphs" stroke="#1a1a1a" stroke-width="0.28">105</text>
<line x1="172" y1="823.1" x2="172" y2="825.9" stroke="#222" stroke-width="1.1"/>
<text x="172" y="833.5" font-size="7.9" text-anchor="middle" textLength="11.1" lengthAdjust="spacingAndGlyphs" stroke="#1a1a1a" stroke-width="0.28">120</text>
<line x1="190.2" y1="823.1" x2="190.2" y2="825.9" stroke="#222" stroke-width="1.1"/>
<text x="190.2" y="833.5" font-size="7.9" text-anchor="middle" textLength="11.1" lengthAdjust="spacingAndGlyphs" stroke="#1a1a1a" stroke-width="0.28">135</text>
<line x1="209.3" y1="823.1" x2="209.3" y2="825.9" stroke="#222" stroke-width="1.1"/>
<text x="209.3" y="833.5" font-size="7.9" text-anchor="middle" textLength="11.1" lengthAdjust="spacingAndGlyphs" stroke="#1a1a1a" stroke-width="0.28">150</text>
<line x1="227.2" y1="823.1" x2="227.2" y2="825.9" stroke="#222" stroke-width="1.1"/>
<text x="227.2" y="833.5" font-size="7.9" text-anchor="middle" textLength="11.1" lengthAdjust="spacingAndGlyphs" stroke="#1a1a1a" stroke-width="0.28">165</text>
<line x1="245.6" y1="823.1" x2="245.6" y2="825.9" stroke="#222" stroke-width="1.1"/>
<text x="245.6" y="833.5" font-size="7.9" text-anchor="middle" textLength="11.1" lengthAdjust="spacingAndGlyphs" stroke="#1a1a1a" stroke-width="0.28">180</text>
<text x="110.8" y="715.4" font-size="7.5" textLength="56.9" lengthAdjust="spacingAndGlyphs" stroke="#1a1a1a" stroke-width="0.2">Participant no. 19</text>
<text x="122.1" y="844.5" font-size="7.5" textLength="35.7" lengthAdjust="spacingAndGlyphs" stroke="#1a1a1a" stroke-width="0.2">TIME (min)</text>
<text transform="translate(12.9 790) rotate(-90)" font-size="7.8" text-anchor="middle" stroke="#1a1a1a" stroke-width="0.25" textLength="77.5" lengthAdjust="spacingAndGlyphs">Delta glucose (mg/dL)</text>
<line x1="200.9" y1="728" x2="209.5" y2="728" stroke="#40b040" stroke-width="1.5"/>
<line x1="200.9" y1="738.7" x2="209.5" y2="738.7" stroke="#111111" stroke-width="1.5"/>
<text x="212.4" y="730.84" font-size="7.9" font-weight="normal" fill="#222" textLength="40.4" lengthAdjust="spacingAndGlyphs" stroke="#222" stroke-width="0.12">Mankai mean</text>
<text x="212.4" y="741.54" font-size="7.9" font-weight="normal" fill="#222" textLength="38.1" lengthAdjust="spacingAndGlyphs" stroke="#222" stroke-width="0.12">Yogurt mean</text>
<polyline points="29.5,823.1 48,821.2 66.5,803.5 84.2,792.7 121,799.2 157.6,752.5 176.3,762.6 195.1,789.4 231.2,824.2 245.8,823.4" fill="none" stroke="#111111" stroke-width="1.35"/>
<polyline points="29.5,823.1 49,826 85,790 102.5,784.5 121,769.8 138.8,762.6 157.6,755.4 176.3,762.6 195.1,782.8 212.4,799.2 231.2,802.3 245.8,799.6" fill="none" stroke="#40b040" stroke-width="1.35"/>
</g>
<g font-weight="bold" fill="#1a1a1a">
<line x1="292.5" y1="720.75" x2="292.5" y2="854.25" stroke="#2e2e2e" stroke-width="1.1"/>
<line x1="290.7" y1="721.25" x2="292.5" y2="721.25" stroke="#2e2e2e" stroke-width="1"/>
<text x="289" y="724.32" font-size="8.65" text-anchor="end" textLength="7.4" lengthAdjust="spacingAndGlyphs" stroke="#1a1a1a" stroke-width="0.28">30</text>
<line x1="290.7" y1="737.86" x2="292.5" y2="737.86" stroke="#2e2e2e" stroke-width="1"/>
<text x="289" y="740.93" font-size="8.65" text-anchor="end" textLength="7.4" lengthAdjust="spacingAndGlyphs" stroke="#1a1a1a" stroke-width="0.28">25</text>
<line x1="290.7" y1="754.47" x2="292.5" y2="754.47" stroke="#2e2e2e" stroke-width="1"/>
<text x="289" y="757.54" font-size="8.65" text-anchor="end" textLength="7.4" lengthAdjust="spacingAndGlyphs" stroke="#1a1a1a" stroke-width="0.28">20</text>
<line x1="290.7" y1="771.08" x2="292.5" y2="771.08" stroke="#2e2e2e" stroke-width="1"/>
<text x="289" y="774.15" font-size="8.65" text-anchor="end" textLength="7.4" lengthAdjust="spacingAndGlyphs" stroke="#1a1a1a" stroke-width="0.28">15</text>
<line x1="290.7" y1="787.68" x2="292.5" y2="787.68" stroke="#2e2e2e" stroke-width="1"/>
<text x="289" y="790.75" font-size="8.65" text-anchor="end" textLength="7.4" lengthAdjust="spacingAndGlyphs" stroke="#1a1a1a" stroke-width="0.28">10</text>
<line x1="290.7" y1="804.29" x2="292.5" y2="804.29" stroke="#2e2e2e" stroke-width="1"/>
<text x="289" y="807.36" font-size="8.65" text-anchor="end" textLength="3.7" lengthAdjust="spacingAndGlyphs" stroke="#1a1a1a" stroke-width="0.28">5</text>
<line x1="290.7" y1="820.9" x2="292.5" y2="820.9" stroke="#2e2e2e" stroke-width="1"/>
<text x="289" y="823.97" font-size="8.65" text-anchor="end" textLength="3.7" lengthAdjust="spacingAndGlyphs" stroke="#1a1a1a" stroke-width="0.28">0</text>
<line x1="290.7" y1="837.51" x2="292.5" y2="837.51" stroke="#2e2e2e" stroke-width="1"/>
<text x="289" y="840.58" font-size="8.65" text-anchor="end" textLength="5.9" lengthAdjust="spacingAndGlyphs" stroke="#1a1a1a" stroke-width="0.28">-5</text>
<line x1="290.7" y1="854.12" x2="292.5" y2="854.12" stroke="#2e2e2e" stroke-width="1"/>
<text x="289" y="857.19" font-size="8.65" text-anchor="end" textLength="9.6" lengthAdjust="spacingAndGlyphs" stroke="#1a1a1a" stroke-width="0.28">-10</text>
<line x1="292" y1="820.9" x2="513.5" y2="820.9" stroke="#2a2a2a" stroke-width="1.3"/>
<line x1="310.42" y1="820.9" x2="310.42" y2="823.7" stroke="#222" stroke-width="1.1"/>
<text x="310.42" y="832.17" font-size="8.65" text-anchor="middle" textLength="7.4" lengthAdjust="spacingAndGlyphs" stroke="#1a1a1a" stroke-width="0.28">15</text>
<line x1="328.83" y1="820.9" x2="328.83" y2="823.7" stroke="#222" stroke-width="1.1"/>
<text x="328.83" y="832.17" font-size="8.65" text-anchor="middle" textLength="7.4" lengthAdjust="spacingAndGlyphs" stroke="#1a1a1a" stroke-width="0.28">30</text>
<line x1="347.25" y1="820.9" x2="347.25" y2="823.7" stroke="#222" stroke-width="1.1"/>
<text x="347.25" y="832.17" font-size="8.65" text-anchor="middle" textLength="7.4" lengthAdjust="spacingAndGlyphs" stroke="#1a1a1a" stroke-width="0.28">45</text>
<line x1="365.67" y1="820.9" x2="365.67" y2="823.7" stroke="#222" stroke-width="1.1"/>
<text x="365.67" y="832.17" font-size="8.65" text-anchor="middle" textLength="7.4" lengthAdjust="spacingAndGlyphs" stroke="#1a1a1a" stroke-width="0.28">60</text>
<line x1="384.08" y1="820.9" x2="384.08" y2="823.7" stroke="#222" stroke-width="1.1"/>
<text x="384.08" y="832.17" font-size="8.65" text-anchor="middle" textLength="7.4" lengthAdjust="spacingAndGlyphs" stroke="#1a1a1a" stroke-width="0.28">75</text>
<line x1="402.5" y1="820.9" x2="402.5" y2="823.7" stroke="#222" stroke-width="1.1"/>
<text x="402.5" y="832.17" font-size="8.65" text-anchor="middle" textLength="7.4" lengthAdjust="spacingAndGlyphs" stroke="#1a1a1a" stroke-width="0.28">90</text>
<line x1="420.92" y1="820.9" x2="420.92" y2="823.7" stroke="#222" stroke-width="1.1"/>
<text x="420.92" y="832.17" font-size="8.65" text-anchor="middle" textLength="11.1" lengthAdjust="spacingAndGlyphs" stroke="#1a1a1a" stroke-width="0.28">105</text>
<line x1="439.33" y1="820.9" x2="439.33" y2="823.7" stroke="#222" stroke-width="1.1"/>
<text x="439.33" y="832.17" font-size="8.65" text-anchor="middle" textLength="11.1" lengthAdjust="spacingAndGlyphs" stroke="#1a1a1a" stroke-width="0.28">120</text>
<line x1="457.75" y1="820.9" x2="457.75" y2="823.7" stroke="#222" stroke-width="1.1"/>
<text x="457.75" y="832.17" font-size="8.65" text-anchor="middle" textLength="11.1" lengthAdjust="spacingAndGlyphs" stroke="#1a1a1a" stroke-width="0.28">135</text>
<line x1="476.17" y1="820.9" x2="476.17" y2="823.7" stroke="#222" stroke-width="1.1"/>
<text x="476.17" y="832.17" font-size="8.65" text-anchor="middle" textLength="11.1" lengthAdjust="spacingAndGlyphs" stroke="#1a1a1a" stroke-width="0.28">150</text>
<line x1="494.58" y1="820.9" x2="494.58" y2="823.7" stroke="#222" stroke-width="1.1"/>
<text x="494.58" y="832.17" font-size="8.65" text-anchor="middle" textLength="11.1" lengthAdjust="spacingAndGlyphs" stroke="#1a1a1a" stroke-width="0.28">165</text>
<line x1="513" y1="820.9" x2="513" y2="823.7" stroke="#222" stroke-width="1.1"/>
<text x="513" y="832.17" font-size="8.65" text-anchor="middle" textLength="11.1" lengthAdjust="spacingAndGlyphs" stroke="#1a1a1a" stroke-width="0.28">180</text>
<text x="374.5" y="708.2" font-size="8.22" textLength="57.3" lengthAdjust="spacingAndGlyphs" stroke="#1a1a1a" stroke-width="0.2">Participant no. 20</text>
<text x="385.5" y="843.5" font-size="8.22" textLength="35.4" lengthAdjust="spacingAndGlyphs" stroke="#1a1a1a" stroke-width="0.2">TIME (min)</text>
<text transform="translate(275.4 786.25) rotate(-90)" font-size="7.8" text-anchor="middle" stroke="#1a1a1a" stroke-width="0.25" textLength="82.5" lengthAdjust="spacingAndGlyphs">Delta glucose (mg/dL)</text>
<line x1="449.3" y1="727.1" x2="457.1" y2="727.1" stroke="#40b040" stroke-width="1.5"/>
<line x1="449.3" y1="737.5" x2="457.1" y2="737.5" stroke="#111111" stroke-width="1.5"/>
<text x="460.9" y="730.21" font-size="8.65" font-weight="normal" fill="#222" textLength="41.2" lengthAdjust="spacingAndGlyphs" stroke="#222" stroke-width="0.12">Mankai mean</text>
<text x="460.9" y="740.61" font-size="8.65" font-weight="normal" fill="#222" textLength="38.9" lengthAdjust="spacingAndGlyphs" stroke="#222" stroke-width="0.12">Yogurt mean</text>
<polyline points="292,820.9 311.4,803.75 329.03,793 347.93,794.5 366.07,802 384.51,795.2 403.16,780.8 422.3,774.1 440.95,774.1 458.68,770.7 477.53,755.4 495.57,756.2 513,751.1" fill="none" stroke="#111111" stroke-width="1.35"/>
<polyline points="292,820.9 311.25,827.1 329.59,820.8 348.03,806 366.07,810.75 384.51,816 403.16,817.4 422.3,833.3 440.95,840.5 458.68,814.5 477.53,789.4 495.57,801 513,837.6" fill="none" stroke="#40b040" stroke-width="1.35"/>
</g>
</svg>
</body></html>
